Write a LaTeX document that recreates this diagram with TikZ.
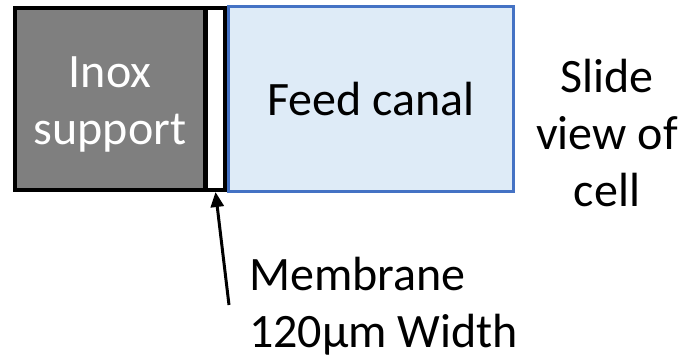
\documentclass[tikz,border=0pt]{standalone}
\usepackage{fontspec}
\setmainfont{Carlito}
\usepackage{xcolor}
\usetikzlibrary{arrows.meta,positioning}
\definecolor{inoxgray}{HTML}{7F7F7F}
\definecolor{canalblue}{HTML}{4472C4}
\definecolor{canalfill}{HTML}{DEEBF7}

\begin{document}
\begin{tikzpicture}[x=1pt, y=-1pt,
			part/.style={draw, rectangle, minimum height=182pt, inner sep=0pt,
				align=center, font=\fontsize{48}{57}\selectfont},
			inoxnd/.style={part, fill=inoxgray, draw=black, line width=4pt,
				minimum width=190pt},
			membnd/.style={part, fill=white, draw=black, line width=4pt,
				minimum width=19pt},
			canalnd/.style={part, fill=canalfill, draw=canalblue, line width=3pt,
				minimum width=285pt, minimum height=185pt},
			lbl/.style={align=center, inner sep=0pt, font=\fontsize{48}{57}\selectfont},
			pointer/.style={line width=3pt, -{Triangle[length=15pt, width=13pt]}},
			]
			\useasboundingbox (0,0) rectangle (693,361);
			
			%% ── Cell parts ───────────────────────────────────────────────────────────────
			\node[inoxnd] (inox) at (110, 99) {};
			\node[lbl, text=white] (inoxtxt) at (110, 104) {Inox\\support};
			\node[membnd] (memb) at (215.5, 99) {};
			\node[canalnd] (canal) at (371, 99) {Feed canal};
			
			%% ── Side caption ─────────────────────────────────────────────────────────────
			\node[lbl] (view) at (607, 133) {Slide\\view of\\cell};
			
			%% ── Membrane label and pointer ───────────────────────────────────────────────
			\node[lbl, align=left, anchor=west] (memblbl) at (249, 306)
			{Membrane\\120μm Width};
			\coordinate (tail) at (229, 305);
			\draw[pointer] (tail) -- (memb.south);
			
		\end{tikzpicture}
\end{document}
